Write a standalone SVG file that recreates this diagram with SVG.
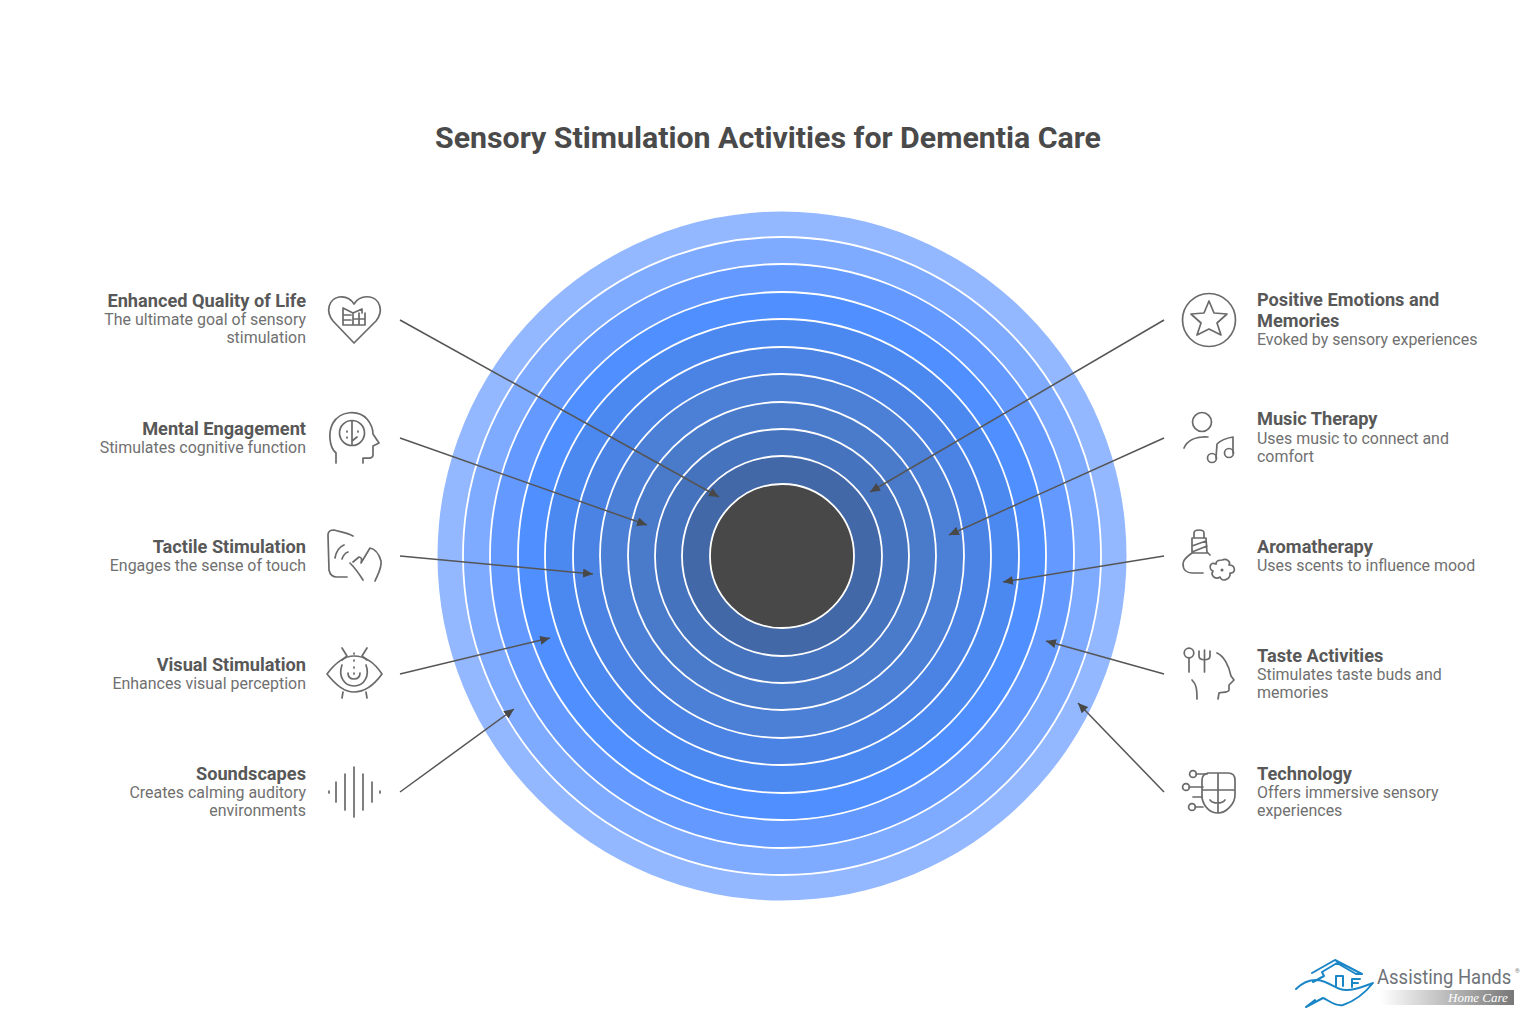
<svg xmlns="http://www.w3.org/2000/svg" width="1536" height="1024" viewBox="0 0 1536 1024">
<style>
text{font-family:Roboto,"Liberation Sans",sans-serif}
.t{font-size:30.3px;font-weight:700;fill:#4a4a4a}
.h{font-size:18.200px;font-weight:700;fill:#585858}
.d{font-size:15.950px;fill:#707070}
.r{text-anchor:end}
.ring{stroke:#fff;stroke-width:1.8}
.c{stroke:#555;stroke-width:1.5;fill:none;marker-end:url(#a)}
.i{fill:none;stroke:#6a6a6a;stroke-width:1.7;stroke-linecap:round;stroke-linejoin:round}
.l{fill:none;stroke:#1b86c6;stroke-width:2;stroke-linecap:round;stroke-linejoin:round}
</style>
<defs>
<marker id="a" markerWidth="11" markerHeight="10" refX="10" refY="4.5" orient="auto" markerUnits="userSpaceOnUse"><path d="M0 0L10 4.5L0 9Z" fill="#484848"/></marker>
<linearGradient id="g"><stop offset="0" stop-color="#fff"/><stop offset="1" stop-color="#777"/></linearGradient>
</defs>
<rect width="1536" height="1024" fill="#fff"/>
<text class="t" x="768" y="148" text-anchor="middle">Sensory Stimulation Activities for Dementia Care</text>
<g id="target">
<circle cx="782" cy="556" r="344.500" fill="#94b8ff"/>
<circle class="ring" cx="782" cy="556" r="319" fill="#7eaaff"/>
<circle class="ring" cx="782" cy="556" r="292" fill="#649aff"/>
<circle class="ring" cx="782" cy="556" r="264" fill="#4f8fff"/>
<circle class="ring" cx="782" cy="556" r="237" fill="#4b88f0"/>
<circle class="ring" cx="782" cy="556" r="209" fill="#4a83e4"/>
<circle class="ring" cx="782" cy="556" r="182" fill="#4c7fd6"/>
<circle class="ring" cx="782" cy="556" r="154" fill="#4a7bcb"/>
<circle class="ring" cx="782" cy="556" r="127" fill="#4673bd"/>
<circle class="ring" cx="782" cy="556" r="100" fill="#4268a8"/>
<circle class="ring" cx="782" cy="556" r="72" fill="#484848"/>
</g>
<g id="connectors">
<path class="c" d="M400 320L719 497"/>
<path class="c" d="M400 438L647 525"/>
<path class="c" d="M400 556L593 574"/>
<path class="c" d="M400 674L550 638"/>
<path class="c" d="M400 792L514 709"/>
<path class="c" d="M1164 320L870 492"/>
<path class="c" d="M1164 438L949 535"/>
<path class="c" d="M1164 556L1003 582"/>
<path class="c" d="M1164 674L1046 641"/>
<path class="c" d="M1164 792L1078 703"/>
</g>
<g id="n-quality">
<text class="h r" x="306" y="307">Enhanced Quality of Life</text>
<text class="d r" x="306" y="325">The ultimate goal of sensory</text>
<text class="d r" x="306" y="343">stimulation</text>
<path class="i" d="M354 343L333 321C325 311 329 299 339 297C346 296 351 299 354 304C357 299 363 296 370 297C380 299 384 311 376 321Z"/>
<path class="i" d="M343 308V325H365V313M343 308L353 313V325M343 315H351M343 320H351M353 319H365M353 313L362 309V313M359 313V325"/>
</g>
<g id="n-mental">
<text class="h r" x="306" y="434.500">Mental Engagement</text>
<text class="d r" x="306" y="452.500">Stimulates cognitive function</text>
<path class="i" d="M336 463V453C329 447 328 432 333 423C340 411 358 409 367 419C372 425 373 430 373 434L379 443L373 446V455C373 459 368 458 363 458V463"/>
<circle class="i" cx="352" cy="433" r="12.500"/>
<path class="i" d="M352 421V445M347 431V432M358 431V432M347 437V438M357 437L352 441"/>
</g>
<g id="n-tactile">
<text class="h r" x="306" y="552.500">Tactile Stimulation</text>
<text class="d r" x="306" y="570.500">Engages the sense of touch</text>
<path class="i" d="M353 536C346 532 340 532 334 530C330 530 328 532 328 535L329 570C330 575 333 577 337 577H347"/>
<path class="i" d="M335 558C336 552 339 547 344 545M342 559C343 556 345 553 348 552M350 563C353 566 358 572 363 580M353 562L359 557C362 557 362 560 361 563L370 548C375 549 379 554 381 561C382 568 378 574 375 581"/>
</g>
<g id="n-visual">
<text class="h r" x="306" y="670.500">Visual Stimulation</text>
<text class="d r" x="306" y="688.500">Enhances visual perception</text>
<path class="i" d="M327 674C336 662 344 656 354 656C364 656 374 662 382 674C374 685 364 692 354 692C344 692 336 685 327 674Z"/>
<path class="i" d="M342 665C338 676 344 686 354 686C364 686 370 676 366 665M348 673C348 677 350 679 354 679C358 679 360 677 360 673M354 653V654M354 660V661M354 667V668M354 673V674M342 648L347 656L342 660M367 648L362 656L367 660M342 698L343 692M367 698L366 692"/>
</g>
<g id="n-sound">
<text class="h r" x="306" y="780">Soundscapes</text>
<text class="d r" x="306" y="798">Creates calming auditory</text>
<text class="d r" x="306" y="816">environments</text>
<path class="i" d="M329 791V793M336 782V802M345 774V810M354 767V817M363 774V810M372 782V802M380 791V793"/>
</g>
<g id="n-positive">
<text class="h" x="1257" y="306">Positive Emotions and</text>
<text class="h" x="1257" y="327">Memories</text>
<text class="d" x="1257" y="345">Evoked by sensory experiences</text>
<circle class="i" cx="1209" cy="320" r="26.500"/>
<path class="i" d="M1209 301L1214 313L1227 314L1217 323L1221 335L1209 329L1197 335L1201 323L1191 314L1204 313Z"/>
</g>
<g id="n-music">
<text class="h" x="1257" y="425">Music Therapy</text>
<text class="d" x="1257" y="443.500">Uses music to connect and</text>
<text class="d" x="1257" y="461.500">comfort</text>
<circle class="i" cx="1202" cy="422" r="9.500"/>
<path class="i" d="M1184 448C1187 441 1195 436 1208 437"/>
<circle class="i" cx="1212" cy="458" r="4.500"/>
<circle class="i" cx="1229" cy="453" r="4.500"/>
<path class="i" d="M1216 458L1217 444C1222 439 1227 438 1233 437V453"/>
</g>
<g id="n-aroma">
<text class="h" x="1257" y="552.500">Aromatherapy</text>
<text class="d" x="1257" y="570.500">Uses scents to influence mood</text>
<path class="i" d="M1194 538V533C1194 529 1204 529 1204 533V538M1192 538H1206L1207 553H1192ZM1192 546L1206 541M1192 552L1207 546M1192 553C1188 556 1183 559 1183 564C1183 570 1187 573 1192 573H1203M1207 552L1210 555"/>
<path class="i" d="M1222 560C1227 558 1231 562 1229 565C1236 565 1236 574 1230 573C1231 579 1222 583 1220 577C1216 580 1210 576 1213 571C1208 569 1210 561 1216 564C1216 562 1218 560 1222 560Z"/>
<circle cx="1222" cy="570" r="1.500" fill="#666"/>
</g>
<g id="n-taste">
<text class="h" x="1257" y="661.500">Taste Activities</text>
<text class="d" x="1257" y="679.500">Stimulates taste buds and</text>
<text class="d" x="1257" y="697.500">memories</text>
<circle class="i" cx="1189" cy="653" r="4.800"/>
<path class="i" d="M1189 658V672M1199 651V656C1199 661 1210 661 1210 656V651M1204.500 650V672M1217 653C1224 656 1229 666 1231 676L1234 680L1229 685V690C1228 693 1222 692 1219 693L1218 699M1192 680C1196 684 1197 688 1197 699"/>
</g>
<g id="n-tech">
<text class="h" x="1257" y="780">Technology</text>
<text class="d" x="1257" y="798">Offers immersive sensory</text>
<text class="d" x="1257" y="816">experiences</text>
<path class="i" d="M1208 773H1228C1232 773 1235 775 1235 780V795C1235 804 1226 813 1218 813C1210 813 1204 807 1202 798V780C1202 776 1204 774 1208 773ZM1218 773V813M1202 790H1235M1210 800C1213 804 1222 804 1225 800"/>
<path class="i" d="M1196 774H1207M1189 787H1203M1193 797H1202M1195 807H1203"/>
<circle class="i" cx="1193" cy="774" r="3.400"/>
<circle class="i" cx="1186" cy="787" r="3.400"/>
<circle class="i" cx="1192" cy="807" r="3.400"/>
</g>
<g id="logo">
<rect x="1380" y="990" width="134" height="15" fill="url(#g)"/>
<text transform="translate(1377 983.500) scale(.925 1)" font-size="20" fill="#6f7378">Assisting Hands</text>
<text x="1515" y="973" font-size="6" fill="#777">®</text>
<text x="1448" y="1002" font-size="13" font-style="italic" fill="#fff" style="font-family:'Liberation Serif',serif">Home Care</text>
<path class="l" d="M1312 973L1335 960L1362 974H1356L1337 963L1322 972L1324 976L1313 982M1296 989C1302 983 1309 980 1316 980C1325 980 1332 986 1340 989C1350 992 1362 987 1373 983C1365 993 1355 1001 1343 1005C1335 1007 1327 999 1323 998L1306 1007L1315 1000M1336 986V976H1343V986M1352 987V979H1360M1352 983H1358"/>
</g>
</svg>
